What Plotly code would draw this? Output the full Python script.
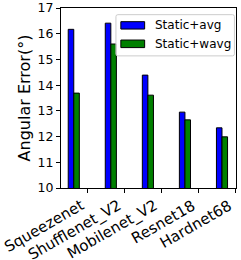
import plotly.graph_objects as go

categories = ["Squeezenet", "Shufflenet_V2", "Mobilenet_V2", "Resnet18", "Hardnet68"]
static_avg = [16.17, 16.41, 14.39, 12.95, 12.34]
static_wavg = [13.69, 15.60, 13.61, 12.65, 11.99]
series_names = ["Static+avg", "Static+wavg"]
yticks = [10, 11, 12, 13, 14, 15, 16, 17]

FONT = "DejaVu Sans"
idx = list(range(len(categories)))

fig = go.Figure()
fig.add_trace(go.Bar(x=idx, y=static_avg, base=0, width=0.15, offset=-0.525,
                     marker=dict(color="#0000ff", line=dict(color="black", width=1)),
                     name=series_names[0], showlegend=False, hoverinfo="skip"))
fig.add_trace(go.Bar(x=idx, y=static_wavg, base=0, width=0.15, offset=-0.375,
                     marker=dict(color="#008000", line=dict(color="black", width=1)),
                     name=series_names[1], showlegend=False, hoverinfo="skip"))

# custom legend (matplotlib style)
shapes = [
    dict(type="path", xref="paper", yref="paper",
         path="M 0.325,0.963 L 0.980,0.963 Q 0.991,0.963 0.991,0.952 L 0.991,0.745 Q 0.991,0.734 0.980,0.734 "
              "L 0.325,0.734 Q 0.314,0.734 0.314,0.745 L 0.314,0.952 Q 0.314,0.963 0.325,0.963 Z",
         line=dict(color="#cccccc", width=1), fillcolor="rgba(255,255,255,0.8)", layer="above"),
]
legend_colors = ["#0000ff", "#008000"]
legend_y = [(0.924, 0.883), (0.822, 0.780)]
annotations = []
for name, col, (yt, yb) in zip(series_names, legend_colors, legend_y):
    shapes.append(dict(type="rect", xref="paper", yref="paper", x0=0.342, x1=0.478, y0=yb, y1=yt,
                       fillcolor=col, line=dict(color="black", width=1), layer="above"))
    annotations.append(dict(xref="paper", yref="paper", x=0.528, y=(yt + yb) / 2, text=name,
                            showarrow=False, xanchor="left", yanchor="middle",
                            font=dict(family=FONT, size=12, color="black")))

# rotated category labels (matplotlib-style: bbox right/top anchored at the tick)
for i, cat in zip(idx, categories):
    annotations.append(dict(xref="x", yref="paper", x=i, y=0, yshift=-7, xshift=1, text=cat,
                            textangle=-30, showarrow=False, xanchor="right", yanchor="top",
                            borderpad=0, font=dict(family=FONT, size=15, color="black")))

fig.update_layout(
    width=241, height=260,
    margin=dict(l=61, r=5, t=8, b=72),
    plot_bgcolor="white", paper_bgcolor="white",
    barmode="overlay",
    font=dict(family=FONT, color="black"),
    shapes=shapes, annotations=annotations,
    showlegend=False,
)
fig.update_xaxes(range=[-0.72, 4.003], tickmode="array", tickvals=idx, showticklabels=False,
                 ticks="outside", ticklen=4, tickcolor="black", automargin=False,
                 showline=True, linecolor="black", linewidth=1, mirror=True,
                 showgrid=False, zeroline=False)
fig.update_yaxes(range=[10, 17], tickmode="array", tickvals=yticks,
                 tickfont=dict(family=FONT, size=12.5, color="black"),
                 ticks="outside", ticklen=4, tickcolor="black", automargin=False,
                 showline=True, linecolor="black", linewidth=1, mirror=True,
                 showgrid=False, zeroline=False,
                 title=dict(text="Angular Error(°)", font=dict(family=FONT, size=16, color="black"), standoff=2))

fig.write_html("out.html", config={"displayModeBar": False},
               post_script="document.body.style.margin='0';document.body.style.overflow='hidden';")
